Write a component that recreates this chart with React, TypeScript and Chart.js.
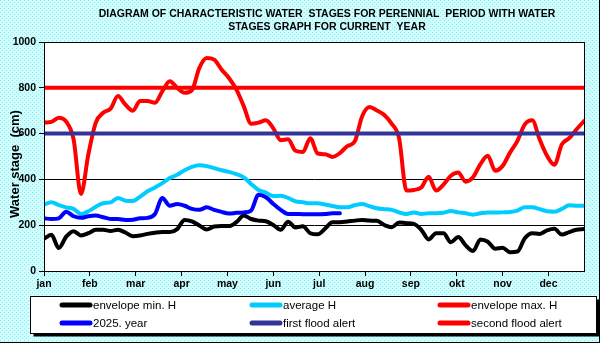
import React, { useEffect, useRef } from "react";
import { Chart, registerables } from "chart.js";

Chart.register(...registerables);

const TITLE_LINES = [
  "DIAGRAM OF CHARACTERISTIC WATER  STAGES FOR PERENNIAL  PERIOD WITH WATER",
  "STAGES GRAPH FOR CURRENT  YEAR",
];
const Y_TITLE = "Water stage  (cm)";

const MONTHS = ["jan", "feb", "mar", "apr", "may", "jun", "jul", "aug", "sep", "okt", "nov", "dec"];
const MONTH_START_DAYS = [0, 31, 62, 93, 124, 155, 186, 217, 248, 279, 310, 341];

// day of year of each sample
const DAYS = [
  0, 5, 10, 15, 20, 25, 30, 35, 40, 45,
  50, 55, 60, 65, 70, 75, 80, 85, 90, 95,
  100, 105, 110, 115, 120, 125, 130, 135, 140, 145,
  150, 155, 160, 165, 170, 175, 180, 185, 190, 195,
  200, 205, 210, 215, 220, 225, 230, 235, 240, 245,
  250, 255, 260, 265, 270, 275, 280, 285, 290, 295,
  300, 305, 310, 315, 320, 325, 330, 335, 340, 345,
  350, 355, 360, 365,
];

const MIN_H = [
  141, 158, 100, 150, 174, 155, 165, 180, 180, 175,
  180, 168, 152, 155, 162, 167, 170, 170, 183, 223,
  217, 199, 181, 194, 196, 196, 213, 242, 227, 220,
  217, 201, 180, 215, 190, 195, 165, 160, 185, 213,
  213, 216, 220, 223, 220, 219, 201, 191, 212, 209,
  206, 180, 138, 165, 165, 126, 148, 112, 87, 138,
  128, 97, 101, 82, 85, 143, 165, 162, 177, 184,
  159, 170, 180, 183,
];

const AVG_H = [
  290, 300, 288, 278, 271, 249, 261, 281, 296, 300,
  319, 307, 306, 325, 348, 365, 384, 406, 420, 440,
  455, 462, 458, 449, 440, 433, 423, 409, 380, 354,
  342, 327, 329, 319, 304, 300, 296, 296, 290, 284,
  278, 278, 287, 293, 283, 274, 270, 267, 256, 249,
  256, 249, 252, 252, 254, 262, 256, 252, 246, 252,
  256, 255, 256, 258, 264, 278, 278, 270, 261, 259,
  271, 287, 285, 285,
];

const MAX_H = [
  648, 651, 669, 652, 575, 336, 510, 648, 691, 709,
  764, 727, 700, 742, 742, 735, 785, 829, 800, 778,
  790, 887, 930, 923, 880, 843, 793, 720, 643, 648,
  658, 623, 571, 575, 525, 520, 580, 513, 510, 498,
  515, 545, 565, 675, 716, 701, 681, 643, 580, 351,
  354, 365, 412, 351, 377, 416, 430, 390, 409, 467,
  503, 438, 459, 517, 568, 640, 658, 575, 503, 464,
  553, 580, 619, 655,
];

const YEAR_2025 = [
  230, 227, 230, 259, 239, 232, 239, 242, 235, 227,
  227, 223, 224, 230, 232, 249, 319, 285, 293, 285,
  271, 267, 278, 267, 258, 251, 254, 256, 264, 333,
  322, 293, 267, 249, 249, 248, 248, 248, 249, 252,
  252,
];

const FIRST_FLOOD_ALERT = 600;
const SECOND_FLOOD_ALERT = 800;
const YEAR_START = 0;
const YEAR_END = 365;

const LABELS = [
  "envelope min. H",
  "average H",
  "envelope max. H",
  "2025. year",
  "first flood alert",
  "second flood alert",
];
const COLORS = ["#000000", "#00CCFF", "#FF0000", "#0000FF", "#333399", "#FF0000"];

const FONT = "'Liberation Sans', Arial, sans-serif";

const toPoints = (vals: number[]) => vals.map((v, i) => ({ x: DAYS[i], y: v }));

export default function App() {
  const canvasRef = useRef<HTMLCanvasElement | null>(null);

  useEffect(() => {
    const canvas = canvasRef.current;
    if (!canvas) return;

    // dotted light-cyan background pattern
    const tile = document.createElement("canvas");
    tile.width = 4;
    tile.height = 4;
    const tctx = tile.getContext("2d")!;
    tctx.fillStyle = "#ccffff";
    tctx.fillRect(0, 0, 4, 4);
    tctx.fillStyle = "#a8dfe4";
    tctx.fillRect(0, 0, 1, 1);
    tctx.fillRect(2, 2, 1, 1);
    const bgPattern = tctx.createPattern(tile, "repeat") as CanvasPattern;

    const decor = {
      id: "decor",
      beforeDraw(chart: any) {
        const { ctx, width, height, chartArea: a } = chart;
        ctx.save();
        ctx.fillStyle = bgPattern || "#ccf8fa";
        ctx.fillRect(0, 0, width, height);
        ctx.fillStyle = "#ffffff";
        ctx.fillRect(a.left, a.top, a.right - a.left, a.bottom - a.top);
        ctx.restore();
      },
      afterDraw(chart: any) {
        const { ctx, width, height, chartArea: a } = chart;
        ctx.save();
        // plot border
        ctx.strokeStyle = "#000";
        ctx.lineWidth = 1;
        ctx.strokeRect(Math.round(a.left) + 0.5, Math.round(a.top) + 0.5, Math.round(a.right - a.left), Math.round(a.bottom - a.top));

        // title
        ctx.fillStyle = "#000";
        ctx.font = `bold 10.5px ${FONT}`;
        ctx.textAlign = "center";
        ctx.textBaseline = "middle";
        ctx.fillText(TITLE_LINES[0], 327, 14);
        ctx.fillText(TITLE_LINES[1], 327, 27);

        // y axis title
        ctx.save();
        ctx.translate(15, 164);
        ctx.rotate(-Math.PI / 2);
        ctx.font = `bold 13px ${FONT}`;
        ctx.fillText(Y_TITLE, 0, 0);
        ctx.restore();

        // legend box with shadow
        const lx = 30.5, ly = 296.5, lw = 566, lh = 37;
        ctx.fillStyle = "#000";
        ctx.fillRect(lx + 3, ly + 3, lw, lh);
        ctx.fillStyle = "#fff";
        ctx.fillRect(lx, ly, lw, lh);
        ctx.strokeStyle = "#000";
        ctx.strokeRect(lx, ly, lw, lh);

        const colX = [62, 252, 440];
        const rowY = [305, 323];
        ctx.font = `11.5px ${FONT}`;
        ctx.textAlign = "left";
        ctx.textBaseline = "middle";
        ctx.lineCap = "round";
        LABELS.forEach((label, i) => {
          const cx = colX[i % 3];
          const cy = rowY[Math.floor(i / 3)];
          ctx.strokeStyle = COLORS[i];
          ctx.lineWidth = 5;
          ctx.beginPath();
          ctx.moveTo(cx, cy);
          ctx.lineTo(cx + 28, cy);
          ctx.stroke();
          ctx.fillStyle = "#000";
          ctx.fillText(label, cx + 31, cy + 0.5);
        });

        // chart outer shadow edges
        ctx.fillStyle = "#000";
        ctx.fillRect(width - 1, 0, 1, height);
        ctx.fillRect(0, height - 1, width, 1);
        ctx.restore();
      },
    };

    const common = {
      fill: false,
      pointRadius: 0,
      borderWidth: 4,
      cubicInterpolationMode: "monotone" as const,
      borderCapStyle: "round" as const,
      borderJoinStyle: "round" as const,
    };

    const chart = new Chart(canvas, {
      type: "line",
      data: {
        datasets: [
          { ...common, label: LABELS[0], data: toPoints(MIN_H), borderColor: COLORS[0], order: 5 },
          { ...common, label: LABELS[1], data: toPoints(AVG_H), borderColor: COLORS[1], order: 4 },
          { ...common, label: LABELS[2], data: toPoints(MAX_H), borderColor: COLORS[2], order: 3 },
          { ...common, label: LABELS[3], data: toPoints(YEAR_2025), borderColor: COLORS[3], order: 2 },
          {
            ...common,
            label: LABELS[4],
            data: [
              { x: YEAR_START, y: FIRST_FLOOD_ALERT },
              { x: YEAR_END, y: FIRST_FLOOD_ALERT },
            ],
            borderColor: COLORS[4],
            borderCapStyle: "butt",
            order: 1,
          },
          {
            ...common,
            label: LABELS[5],
            data: [
              { x: YEAR_START, y: SECOND_FLOOD_ALERT },
              { x: YEAR_END, y: SECOND_FLOOD_ALERT },
            ],
            borderColor: COLORS[5],
            borderCapStyle: "butt",
            order: 0,
          },
        ],
      },
      options: {
        animation: false,
        responsive: true,
        maintainAspectRatio: false,
        layout: { padding: { left: 0, right: 16, top: 42, bottom: 50 } },
        plugins: {
          legend: { display: false },
          title: { display: false },
          tooltip: { enabled: false },
        },
        scales: {
          x: {
            type: "linear",
            min: YEAR_START,
            max: YEAR_END,
            afterBuildTicks: (scale: any) => {
              scale.ticks = MONTH_START_DAYS.map((v) => ({ value: v }));
            },
            afterFit: (scale: any) => {
              scale.height = 22;
            },
            ticks: {
              autoSkip: false,
              maxRotation: 0,
              minRotation: 0,
              padding: 2,
              color: "#000",
              font: { family: FONT, size: 10.5, weight: "bold" },
              callback: (_v: any, i: number) => MONTHS[i],
            },
            grid: {
              display: true,
              drawOnChartArea: false,
              drawTicks: true,
              tickLength: 5,
              color: "#000",
              lineWidth: 1,
            },
            border: { display: true, color: "#000", width: 1 },
          },
          y: {
            type: "linear",
            min: 0,
            max: 1000,
            afterFit: (scale: any) => {
              scale.width = 44;
            },
            ticks: {
              stepSize: 200,
              padding: 3,
              color: "#000",
              font: { family: FONT, size: 10.5, weight: "bold" },
              callback: (v: any) => String(v),
            },
            grid: {
              display: true,
              drawTicks: true,
              tickLength: 5,
              color: "#000",
              lineWidth: 1,
            },
            border: { display: true, color: "#000", width: 1 },
          },
        },
      },
      plugins: [decor],
    } as any);

    return () => chart.destroy();
  }, []);

  return (
    <div style={{ position: "fixed", left: 0, top: 0, width: 600, height: 343 }}>
      <canvas ref={canvasRef} />
    </div>
  );
}
